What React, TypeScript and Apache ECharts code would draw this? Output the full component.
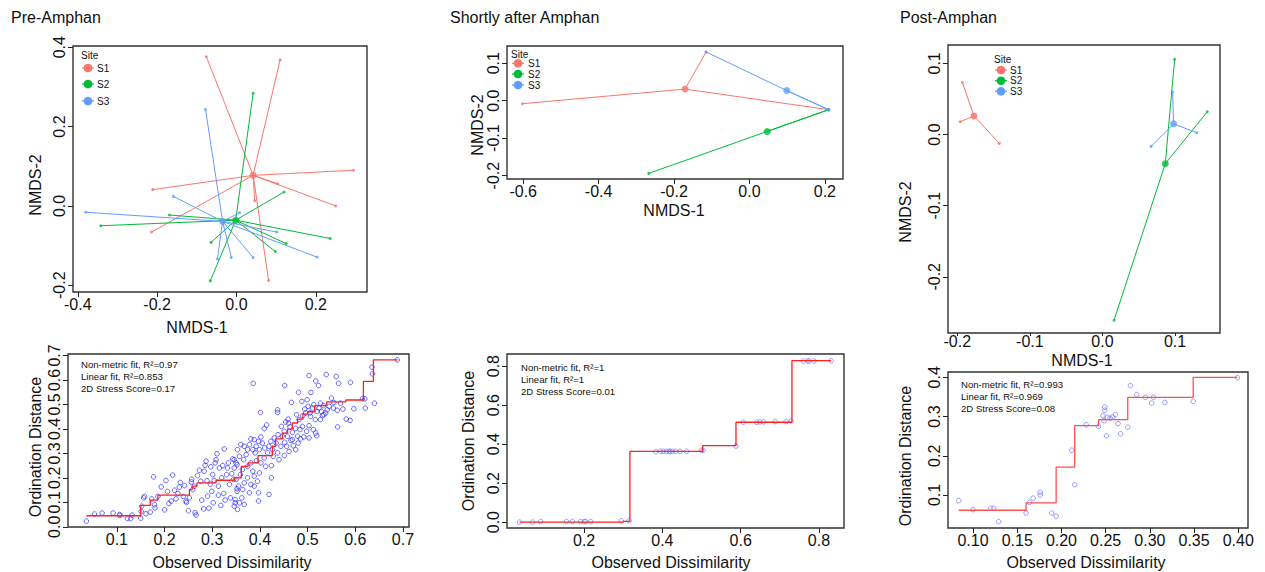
import React, { useEffect, useRef } from "react";
import * as echarts from "echarts";

// ---------- data ----------
const siteNames = ["S1", "S2", "S3"];
const siteColors = ["#F8766D", "#00BA38", "#619CFF"];

// Pre-Amphan NMDS
const p1Centroids = [[0.042, 0.077], [-0.002, -0.036], [-0.035, -0.039]];
const p1S1 = [[-0.076, 0.376], [0.11, 0.368], [0.295, 0.09], [0.104, 0.056], [0.25, 0.0], [0.046, 0.013], [-0.211, 0.041], [-0.214, -0.066], [0.081, -0.188]];
const p1S2 = [[0.042, 0.284], [0.12, 0.035], [0.236, -0.082], [0.125, -0.095], [0.098, -0.115], [-0.066, -0.189], [-0.064, -0.092], [-0.342, -0.05], [-0.169, -0.023]];
const p1S3 = [[-0.078, 0.243], [-0.159, 0.024], [-0.38, -0.016], [0.008, -0.017], [0.102, -0.066], [0.203, -0.129], [0.042, -0.13], [-0.013, -0.13], [-0.048, -0.134]];

// Shortly after Amphan NMDS
const p2Centroids = [[-0.171, 0.031], [0.047, -0.082], [0.099, 0.027]];
const p2S1 = [[-0.602, -0.008], [-0.115, 0.13], [0.21, -0.024]];
const p2S2 = [[-0.267, -0.194], [0.21, -0.024], [0.21, -0.024]];
const p2S3 = [[-0.115, 0.13], [0.21, -0.024], [0.21, -0.024]];

// Post-Amphan NMDS
const p3Centroids = [[-0.177, 0.026], [0.0866, -0.041], [0.098, 0.015]];
const p3S1 = [[-0.193, 0.073], [-0.196, 0.018], [-0.142, -0.0125]];
const p3S2 = [[0.0995, 0.1056], [0.1445, 0.032], [0.016, -0.261]];
const p3S3 = [[0.0967, 0.0597], [0.13, 0.0025], [0.067, -0.0167]];

// Shepard plot, Pre-Amphan (observed dissimilarity, ordination distance)
const p4Points = [
  [0.036, 0.023], [0.053, 0.052], [0.069, 0.056], [0.092, 0.056], [0.106, 0.05], [0.106, 0.046], [0.122, 0.034], [0.129, 0.033], [0.132, 0.048], [0.15, 0.035],
  [0.151, 0.0625], [0.152, 0.084], [0.156, 0.118], [0.158, 0.124], [0.161, 0.053], [0.17, 0.06], [0.177, 0.204], [0.179, 0.09], [0.18, 0.077], [0.173, 0.114],
  [0.186, 0.124], [0.193, 0.163], [0.2, 0.069], [0.203, 0.189], [0.206, 0.144], [0.209, 0.095], [0.214, 0.105], [0.217, 0.211], [0.221, 0.149], [0.224, 0.114],
  [0.228, 0.136], [0.231, 0.162], [0.233, 0.181], [0.239, 0.124], [0.242, 0.168], [0.245, 0.105], [0.246, 0.099], [0.25, 0.065], [0.252, 0.118], [0.256, 0.183],
  [0.257, 0.194], [0.259, 0.152], [0.262, 0.166], [0.264, 0.057], [0.266, 0.048], [0.269, 0.209], [0.273, 0.231], [0.276, 0.186], [0.278, 0.109], [0.282, 0.073],
  [0.283, 0.227], [0.285, 0.251], [0.287, 0.268], [0.289, 0.188], [0.29, 0.125], [0.293, 0.076], [0.296, 0.174], [0.297, 0.245], [0.299, 0.145], [0.301, 0.213],
  [0.302, 0.098], [0.304, 0.189], [0.306, 0.261], [0.308, 0.274], [0.31, 0.298], [0.313, 0.166], [0.313, 0.129], [0.315, 0.24], [0.318, 0.087], [0.32, 0.2],
  [0.322, 0.25], [0.324, 0.136], [0.325, 0.318], [0.327, 0.109], [0.33, 0.213], [0.332, 0.24], [0.334, 0.261], [0.336, 0.173], [0.338, 0.118], [0.341, 0.217],
  [0.343, 0.277], [0.345, 0.194], [0.346, 0.24], [0.348, 0.098], [0.35, 0.261], [0.352, 0.155],
  [0.386, 0.586], [0.452, 0.577], [0.503, 0.618], [0.539, 0.622], [0.56, 0.614], [0.565, 0.586], [0.59, 0.59], [0.517, 0.596], [0.523, 0.577], [0.481, 0.549],
  [0.507, 0.549], [0.499, 0.519], [0.466, 0.508], [0.488, 0.512], [0.513, 0.499], [0.527, 0.505], [0.52, 0.471], [0.55, 0.526], [0.555, 0.508], [0.569, 0.505],
  [0.574, 0.481], [0.562, 0.476], [0.554, 0.485], [0.541, 0.478], [0.534, 0.458], [0.527, 0.438], [0.516, 0.438], [0.506, 0.451], [0.496, 0.465], [0.49, 0.454],
  [0.482, 0.438], [0.477, 0.458], [0.459, 0.44], [0.46, 0.424], [0.437, 0.467], [0.401, 0.467], [0.409, 0.401], [0.563, 0.408], [0.581, 0.44], [0.589, 0.435],
  [0.597, 0.482], [0.62, 0.523], [0.621, 0.485], [0.64, 0.505], [0.635, 0.652], [0.636, 0.625], [0.688, 0.682], [0.615, 0.523], [0.454, 0.428], [0.463, 0.408],
  [0.468, 0.386], [0.475, 0.402], [0.484, 0.397], [0.489, 0.41], [0.498, 0.39], [0.503, 0.413], [0.512, 0.397], [0.517, 0.383], [0.519, 0.372], [0.531, 0.454],
  [0.538, 0.465], [0.545, 0.492], [0.445, 0.41], [0.451, 0.39], [0.458, 0.37], [0.465, 0.353], [0.438, 0.376], [0.447, 0.37], [0.43, 0.363], [0.434, 0.342],
  [0.444, 0.329], [0.452, 0.345], [0.475, 0.315], [0.423, 0.349], [0.419, 0.329], [0.426, 0.315], [0.437, 0.302], [0.416, 0.302], [0.41, 0.322], [0.405, 0.342],
  [0.402, 0.367], [0.397, 0.349], [0.392, 0.329], [0.399, 0.315], [0.388, 0.356], [0.381, 0.359], [0.385, 0.315], [0.378, 0.336], [0.374, 0.315], [0.367, 0.329],
  [0.36, 0.336], [0.353, 0.315], [0.371, 0.295], [0.39, 0.302], [0.409, 0.281], [0.402, 0.261], [0.424, 0.25], [0.412, 0.247], [0.393, 0.27], [0.381, 0.261],
  [0.366, 0.274], [0.357, 0.288], [0.346, 0.274], [0.352, 0.254], [0.374, 0.247], [0.363, 0.234], [0.385, 0.227], [0.399, 0.22], [0.388, 0.207], [0.374, 0.2],
  [0.359, 0.213], [0.35, 0.193], [0.367, 0.179], [0.381, 0.173], [0.395, 0.186], [0.355, 0.166], [0.364, 0.152], [0.352, 0.145], [0.378, 0.139], [0.388, 0.166],
  [0.397, 0.139], [0.397, 0.105], [0.419, 0.132], [0.424, 0.2], [0.362, 0.118], [0.357, 0.098], [0.346, 0.084], [0.367, 0.091], [0.353, 0.071], [0.348, 0.111],
  [0.437, 0.478], [0.414, 0.416], [0.428, 0.288], [0.44, 0.274], [0.451, 0.291], [0.461, 0.308], [0.47, 0.331], [0.48, 0.342], [0.485, 0.359], [0.492, 0.367],
  [0.503, 0.363], [0.456, 0.329], [0.468, 0.356], [0.479, 0.37], [0.51, 0.485], [0.501, 0.492], [0.494, 0.481], [0.505, 0.465], [0.524, 0.485], [0.533, 0.495],
  [0.529, 0.471]
];
const p4StepX = [0.036, 0.15, 0.17, 0.186, 0.252, 0.258, 0.268, 0.308, 0.346, 0.361, 0.375, 0.396, 0.426, 0.433, 0.447, 0.458, 0.468, 0.479, 0.49, 0.5, 0.515, 0.54, 0.58, 0.617, 0.638, 0.689];
const p4StepY = [0.045, 0.087, 0.109, 0.129, 0.152, 0.166, 0.179, 0.19, 0.2, 0.247, 0.261, 0.291, 0.329, 0.359, 0.383, 0.399, 0.424, 0.44, 0.46, 0.47, 0.495, 0.51, 0.518, 0.594, 0.682, 0.682];

// Shepard plot, Shortly after Amphan
const p5Points = [
  [0.035, 0.0], [0.068, 0.0], [0.089, 0.003], [0.155, 0.003], [0.17, 0.003], [0.191, 0.003], [0.2, 0.003], [0.204, 0.003], [0.217, 0.003], [0.295, 0.007],
  [0.315, 0.007], [0.383, 0.361], [0.395, 0.363], [0.402, 0.363], [0.41, 0.363], [0.417, 0.363], [0.42, 0.363], [0.426, 0.363], [0.434, 0.363], [0.445, 0.363],
  [0.462, 0.363], [0.5, 0.368], [0.504, 0.368], [0.588, 0.39], [0.607, 0.512], [0.641, 0.512], [0.649, 0.514], [0.658, 0.514], [0.688, 0.516], [0.716, 0.516],
  [0.729, 0.519], [0.76, 0.826], [0.771, 0.826], [0.775, 0.826], [0.787, 0.826], [0.831, 0.827]
];
const p5StepX = [0.035, 0.3, 0.317, 0.503, 0.588, 0.731, 0.831];
const p5StepY = [0.0, 0.004, 0.363, 0.392, 0.512, 0.828, 0.828];

// Shepard plot, Post-Amphan
const p6Points = [
  [0.0838, 0.0856], [0.1, 0.0626], [0.12, 0.066], [0.1234, 0.066], [0.129, 0.032], [0.16, 0.054], [0.164, 0.081], [0.168, 0.092], [0.176, 0.107], [0.176, 0.1],
  [0.189, 0.054], [0.194, 0.046], [0.2116, 0.214], [0.215, 0.126], [0.228, 0.279], [0.242, 0.275], [0.247, 0.302], [0.249, 0.324], [0.249, 0.316], [0.248, 0.289],
  [0.251, 0.251], [0.252, 0.298], [0.255, 0.296], [0.258, 0.299], [0.261, 0.305], [0.264, 0.282], [0.267, 0.256], [0.275, 0.273], [0.278, 0.379], [0.285, 0.356],
  [0.295, 0.349], [0.302, 0.334], [0.304, 0.349], [0.317, 0.336], [0.349, 0.339], [0.399, 0.399]
];
const p6StepX = [0.0838, 0.16, 0.194, 0.215, 0.242, 0.275, 0.349, 0.399];
const p6StepY = [0.061, 0.08, 0.171, 0.277, 0.292, 0.349, 0.4, 0.4];

// tick values
const p1XTicks = [-0.4, -0.2, 0, 0.2];
const p1YTicks = [-0.2, 0, 0.2, 0.4];
const p2XTicks = [-0.6, -0.4, -0.2, 0, 0.2];
const p2YTicks = [-0.2, -0.1, 0, 0.1];
const p3XTicks = [-0.2, -0.1, 0, 0.1];
const p3YTicks = [-0.2, -0.1, 0, 0.1];
const p4XTicks = [0.1, 0.2, 0.3, 0.4, 0.5, 0.6, 0.7];
const p4YTicks = [0, 0.1, 0.2, 0.3, 0.4, 0.5, 0.6, 0.7];
const p5XTicks = [0.2, 0.4, 0.6, 0.8];
const p5YTicks = [0, 0.2, 0.4, 0.6, 0.8];
const p6XTicks = [0.1, 0.15, 0.2, 0.25, 0.3, 0.35, 0.4];
const p6YTicks = [0.1, 0.2, 0.3, 0.4];

const panelTitles = ["Pre-Amphan", "Shortly after Amphan", "Post-Amphan"];
const fitTexts = [
  ["Non-metric fit, R\u00b2=0.97", "Linear fit, R\u00b2=0.853", "2D Stress Score=0.17"],
  ["Non-metric fit, R\u00b2=1", "Linear fit, R\u00b2=1", "2D Stress Score=0.01"],
  ["Non-metric fit, R\u00b2=0.993", "Linear fit, R\u00b2=0.969", "2D Stress Score=0.08"]
];

// ---------- layout ----------
const FONT = "Liberation Sans, Arial, Helvetica, sans-serif";
const grids = [
  { left: 73, top: 46, width: 294, height: 246 },
  { left: 507, top: 46, width: 336, height: 133 },
  { left: 948, top: 45, width: 272, height: 288 },
  { left: 68, top: 354, width: 341, height: 173 },
  { left: 507, top: 354, width: 337, height: 174 },
  { left: 948, top: 372, width: 300, height: 156 }
];
const xRanges = [[-0.412, 0.329], [-0.643, 0.248], [-0.2128, 0.162], [-0.0025, 0.7126], [0.003, 0.864], [0.0717, 0.411]];
const yRanges = [[-0.217, 0.403], [-0.209, 0.146], [-0.279, 0.1258], [-0.001, 0.706], [-0.03, 0.862], [0.0158, 0.4136]];
const xTicks = [p1XTicks, p2XTicks, p3XTicks, p4XTicks, p5XTicks, p6XTicks];
const yTicks = [p1YTicks, p2YTicks, p3YTicks, p4YTicks, p5YTicks, p6YTicks];
const xDecimals = [1, 1, 1, 1, 1, 2];
const xMargins = [4, 4, 0, 4, 4, 4];
const xTickLen = [5, 5, 3, 5, 5, 5];

function makeX(i: number) {
  const t = xTicks[i];
  return {
    type: "value", gridIndex: i, min: xRanges[i][0], max: xRanges[i][1],
    splitLine: { show: false },
    axisLine: { show: false, onZero: false },
    axisTick: { show: true, inside: false, length: xTickLen[i], customValues: t, lineStyle: { color: "#222", width: 1 } },
    axisLabel: {
      customValues: t, margin: xMargins[i], fontSize: 16, fontFamily: FONT, color: "#111",
      formatter: (v: number) => v.toFixed(xDecimals[i])
    }
  };
}
function makeY(i: number) {
  const t = yTicks[i];
  return {
    type: "value", gridIndex: i, min: yRanges[i][0], max: yRanges[i][1],
    splitLine: { show: false },
    axisLine: { show: false, onZero: false },
    axisTick: { show: true, inside: false, length: 5, customValues: t, lineStyle: { color: "#222", width: 1 } },
    axisLabel: {
      customValues: t, margin: 6, rotate: 90, fontSize: 16, fontFamily: FONT, color: "#111",
      formatter: (v: number) => v.toFixed(1)
    }
  };
}

function spider(panel: number, groups: number[][][], centroids: number[][]) {
  const out: any[] = [];
  groups.forEach((pts, s) => {
    out.push({
      type: "lines", coordinateSystem: "cartesian2d", xAxisIndex: panel, yAxisIndex: panel, silent: true,
      data: pts.map((p) => ({ coords: [p, centroids[s]] })),
      lineStyle: { color: siteColors[s], width: 1, opacity: 1, curveness: 0 }
    });
    out.push({
      type: "scatter", xAxisIndex: panel, yAxisIndex: panel, silent: true,
      data: pts, symbol: "circle", symbolSize: 3, itemStyle: { color: siteColors[s] }
    });
    out.push({
      type: "scatter", xAxisIndex: panel, yAxisIndex: panel, silent: true,
      data: [centroids[s]], symbol: "circle", symbolSize: 7, itemStyle: { color: siteColors[s] }
    });
  });
  return out;
}

function shepard(panel: number, pts: number[][], sx: number[], sy: number[], ptColor: string, lineColor: string) {
  return [
    {
      type: "scatter", xAxisIndex: panel, yAxisIndex: panel, silent: true, data: pts,
      symbol: "circle", symbolSize: 4.6,
      itemStyle: { color: "rgba(0,0,0,0)", borderColor: ptColor, borderWidth: 1 }
    },
    {
      type: "line", xAxisIndex: panel, yAxisIndex: panel, silent: true, step: "end",
      data: sx.map((x, k) => [x, sy[k]]), showSymbol: false, symbol: "none",
      lineStyle: { color: lineColor, width: 1.3 }
    }
  ];
}

function txt(x: number, y: number, text: string, size: number, align = "left", rot = 0) {
  return {
    type: "text", x, y, rotation: rot, silent: true,
    style: {
      text, fill: "#111", font: `${size}px ${FONT}`,
      align, verticalAlign: "middle", textAlign: align, textVerticalAlign: "middle"
    }
  };
}

function legend(x: number, ySite: number, rows: number[], textX: number) {
  const els: any[] = [txt(x - 7, ySite, "Site", 10)];
  rows.forEach((ry, s) => {
    els.push({ type: "line", silent: true, shape: { x1: x - 6, y1: ry, x2: x + 6, y2: ry }, style: { stroke: siteColors[s], lineWidth: 1.2 } });
    els.push({ type: "circle", silent: true, shape: { cx: x, cy: ry, r: 4.3 }, style: { fill: siteColors[s] } });
    els.push(txt(textX, ry, siteNames[s], 10));
  });
  return els;
}

export default function App() {
  const ref = useRef<HTMLDivElement>(null);
  useEffect(() => {
    if (!ref.current) return;
    const chart = echarts.init(ref.current, undefined, { renderer: "svg" });
    const graphics: any[] = [
      txt(11, 17, panelTitles[0], 16),
      txt(450, 17, panelTitles[1], 16),
      txt(900, 17, panelTitles[2], 16),
      // axis titles
      txt(197, 327, "NMDS-1", 16, "center"),
      txt(35, 185, "NMDS-2", 16, "center", Math.PI / 2),
      txt(674, 210, "NMDS-1", 16, "center"),
      txt(477, 125, "NMDS-2", 16, "center", Math.PI / 2),
      txt(1082, 360, "NMDS-1", 16, "center"),
      txt(905, 212, "NMDS-2", 16, "center", Math.PI / 2),
      txt(232, 562, "Observed Dissimilarity", 16, "center"),
      txt(35, 447, "Ordination Distance", 16, "center", Math.PI / 2),
      txt(671, 562, "Observed Dissimilarity", 16, "center"),
      txt(468, 441, "Ordination Distance", 16, "center", Math.PI / 2),
      txt(1086, 562, "Observed Dissimilarity", 16, "center"),
      txt(905, 456, "Ordination Distance", 16, "center", Math.PI / 2),
      ...legend(88, 55, [68, 84, 101], 97),
      ...legend(518, 54, [63.3, 74, 85], 528),
      ...legend(1001, 59, [70, 80.7, 91.3], 1010)
    ];
    const fitPos = [[81, 364], [521, 367], [961, 384]];
    fitTexts.forEach((lines, k) => {
      lines.forEach((l, j) => graphics.push(txt(fitPos[k][0], fitPos[k][1] + j * 12.2, l, 9.6)));
    });

    chart.setOption({
      animation: false,
      backgroundColor: "#ffffff",
      grid: grids.map((g) => ({ ...g, show: true, borderColor: "#333", borderWidth: 1.4, backgroundColor: "transparent", containLabel: false })),
      xAxis: grids.map((_, i) => makeX(i)),
      yAxis: grids.map((_, i) => makeY(i)),
      series: [
        ...spider(0, [p1S1, p1S2, p1S3], p1Centroids),
        ...spider(1, [p2S1, p2S2, p2S3], p2Centroids),
        ...spider(2, [p3S1, p3S2, p3S3], p3Centroids),
        ...shepard(3, p4Points, p4StepX, p4StepY, "rgba(20,20,255,0.8)", "#ff2020"),
        ...shepard(4, p5Points, p5StepX, p5StepY, "rgba(90,110,255,0.8)", "#ff2020"),
        ...shepard(5, p6Points, p6StepX, p6StepY, "rgba(100,110,255,0.85)", "#ff5050")
      ],
      graphic: graphics
    });
    return () => chart.dispose();
  }, []);
  return <div ref={ref} style={{ position: "absolute", left: 0, top: 0, width: 1265, height: 572, background: "#fff" }} />;
}
